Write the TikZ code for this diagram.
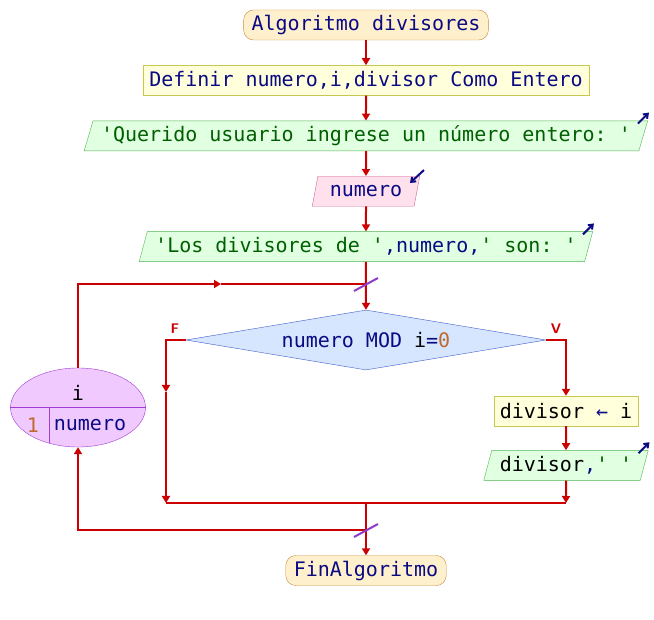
\documentclass[tikz,border=0pt]{standalone}
\usepackage{fontspec}
\setmonofont{DejaVu Sans Mono}
\usepackage{tikz}
\usetikzlibrary{arrows.meta, positioning, calc, shapes.geometric}
\definecolor{flowred}{RGB}{204,0,0}
\definecolor{navytxt}{RGB}{10,10,130}
\definecolor{strgreen}{RGB}{0,95,0}
\definecolor{numbrown}{RGB}{190,105,45}
\definecolor{termfill}{RGB}{255,240,205}
\definecolor{termdraw}{RGB}{200,140,60}
\definecolor{procfill}{RGB}{255,255,220}
\definecolor{procdraw}{RGB}{200,200,80}
\definecolor{outfill}{RGB}{225,255,225}
\definecolor{outdraw}{RGB}{80,180,80}
\definecolor{infill}{RGB}{255,225,238}
\definecolor{indraw}{RGB}{210,100,150}
\definecolor{condfill}{RGB}{215,230,255}
\definecolor{conddraw}{RGB}{60,90,200}
\definecolor{loopfill}{RGB}{240,202,255}
\definecolor{loopdraw}{RGB}{160,60,210}
\definecolor{slashcol}{RGB}{140,60,200}
\newcommand\strtxt[1]{\textcolor{strgreen}{#1}}
\newcommand\vartxt[1]{\textcolor{black}{#1}}

\begin{document}
\begin{tikzpicture}[
        x=1pt, y=-1pt,
        font = \ttfamily\fontsize{20pt}{24pt}\selectfont,
        every node/.style = {text=navytxt},
        term/.style = {rectangle, rounded corners=10pt, minimum height=30pt, inner xsep=8pt, inner ysep=2pt, fill=termfill, draw=termdraw},
        proc/.style = {rectangle, minimum height=30pt, inner xsep=6pt, inner ysep=2pt, fill=procfill, draw=procdraw},
        outbox/.style = {trapezium, trapezium left angle=70, trapezium right angle=110, trapezium stretches body, minimum height=30pt, inner xsep=8pt, inner ysep=2pt, fill=outfill, draw=outdraw, text=strgreen},
        inbox/.style = {outbox, inner xsep=12pt, fill=infill, draw=indraw, text=navytxt},
        cond/.style = {diamond, aspect=6, minimum width=360pt, minimum height=60pt, inner sep=0pt, fill=condfill, draw=conddraw},
        loopvar/.style = {ellipse, minimum width=135pt, minimum height=79pt, inner sep=0pt, fill=loopfill, draw=loopdraw},
        flow/.style = {-{Triangle[length=7pt, width=8pt]}, line width=2pt, flowred},
        wire/.style = {line width=2pt, flowred},
        slash/.style = {line width=2pt, slashcol},
        iomark/.style = {-{Straight Barb[length=4pt, width=6pt]}, line width=2pt, navytxt},
        branchlbl/.style = {font=\sffamily\bfseries\fontsize{14pt}{16pt}\selectfont, text=flowred},
        node distance=25pt,
    ]
        \useasboundingbox (0,0) rectangle (654,620);
        % columna principal
        \node[term] (start) at (366,25) {Algoritmo divisores};
        \node[proc, below=of start] (define) {Definir numero,i,divisor Como Entero};
        \node[outbox, below=of define] (out1) {'Querido usuario ingrese un número entero: '};
        \node[inbox, below=of out1] (in1) {numero};
        \node[outbox, below=of in1] (out2) {'Los divisores de '\textcolor{navytxt}{,numero,}' son: '};
        \node[cond] (cond) at (366,340) {numero MOD \vartxt{i}=\textcolor{numbrown}{0}};
        \node[branchlbl] (flbl) at (175,329) {F};
        \node[branchlbl] (vlbl) at (556,329) {V};
        % rama verdadera
        \node[proc] (assign) at (566,411) {\vartxt{divisor} \textcolor{navytxt}{←} \vartxt{i}};
        \node[outbox, below=24pt of assign] (out3) {\vartxt{divisor}\textcolor{navytxt}{,}' '};
        \node[term] (fin) at (366,570.5) {FinAlgoritmo};
        % ciclo para
        \node[loopvar] (loop) at (78,407.5) {};
        \node[text=black] (loopi) at (78,393) {i};
        \node[text=numbrown] (loopa) at (33,425) {1};
        \node (loopb) at (90,425) {numero};
        \draw[loopdraw] (loop.west) -- (loop.east);
        \draw[loopdraw] ($(loop.center)+(-29,0)$) -- ($(loop.center)+(-29,35.5)$);

        % marcas de entrada/salida
        \draw[iomark] ($(out1.top right corner)+(-10,3)$) -- ($(out1.top right corner)+(1,-8)$);
        \draw[iomark] ($(in1.top right corner)+(4,-6)$) -- ($(in1.top right corner)+(-10,7)$);
        \draw[iomark] ($(out2.top right corner)+(-10,3)$) -- ($(out2.top right corner)+(1,-8)$);
        \draw[iomark] ($(out3.top right corner)+(-10,3)$) -- ($(out3.top right corner)+(1,-8)$);

        %puntos auxiliares
        \coordinate (J1) at (366,284);
        \coordinate (Lmid) at (221,284);
        \coordinate (Fmid) at (166,392);
        \coordinate (Fend) at (166,503);
        \coordinate (Vend) at (566,503);
        \coordinate (M) at (366,503);
        \coordinate (J2) at (366,530);

        \draw [flow] (start) -- (define);
        \draw [flow] (define) -- (out1);
        \draw [flow] (out1) -- (in1);
        \draw [flow] (in1) -- (out2);
        \draw [flow] (out2) -- (cond);
        \draw [flow] (cond.west) -| (Fmid);
        \draw [flow] (Fmid) -- (Fend);
        \draw [flow] (cond.east) -| (assign.north);
        \draw [flow] (assign) -- (out3);
        \draw [flow] (out3) -- (Vend);
        \draw [wire] (Fend) -- (Vend);
        \draw [flow] (M) -- (fin);
        \draw [flow] (J2) -| (loop.south);
        \draw [flow] (loop.north) |- (Lmid);
        \draw [wire] (Lmid) -- (J1);
        \draw [slash] ($(J1)+(-12,7)$) -- ($(J1)+(12,-6)$);
        \draw [slash] ($(J2)+(-12,7)$) -- ($(J2)+(12,-6)$);
    \end{tikzpicture}
\end{document}
